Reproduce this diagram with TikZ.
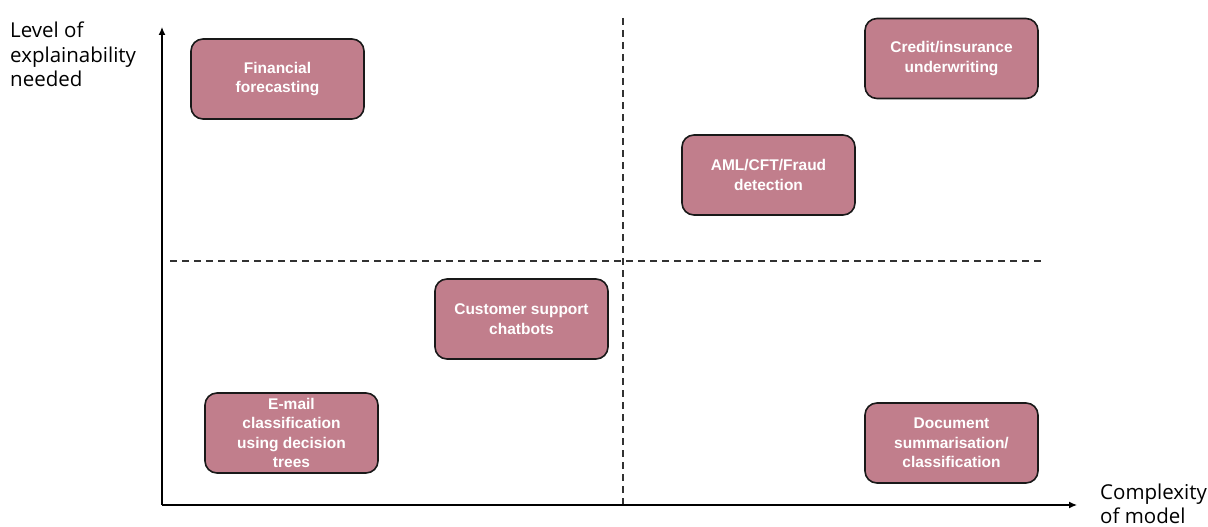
\documentclass[tikz,border=0pt]{standalone}
\usetikzlibrary{arrows.meta}
\usepackage{fontspec}
\setmainfont{Open Sans}
\newfontfamily\boxfont{Liberation Sans}
\definecolor{boxfill}{RGB}{193,126,140}
\definecolor{boxline}{RGB}{25,25,25}
\definecolor{dashgray}{RGB}{50,50,50}
\begin{document}
\begin{tikzpicture}[x=1pt,y=-1pt,
  usecase/.style={draw=boxline,line width=1.6pt,fill=boxfill,rounded corners=12pt,
    minimum width=173pt,minimum height=80pt,align=center,text=white,
    font=\boxfont\bfseries\fontsize{15.5}{19.5}\selectfont,inner sep=2pt},
  axis/.style={line width=1.3pt,-{Latex[length=8pt,width=7pt]}},
  divider/.style={dashgray,line width=1.3pt,dash pattern=on 7pt off 5pt},
  axislabel/.style={font=\fontsize{20.5}{24}\selectfont,align=left,anchor=base west,inner sep=0pt}]
\useasboundingbox (0,0) rectangle (1208,527);
\coordinate (origin) at (162,505);
\coordinate (ytip) at (162,27);
\coordinate (xtip) at (1077,505);
\coordinate (vtop) at (623,18);
\coordinate (vbot) at (623,505);
\coordinate (hl) at (170,261);
\coordinate (hr) at (1045,261);
\draw[divider] (vtop) -- (vbot);
\draw[divider] (hl) -- (hr);
\draw[axis] (origin) -- (ytip);
\draw[axis] (origin) -- (xtip);
\node[axislabel] (ylab) at (10,86) {Level of\\explainability\\needed};
\node[axislabel] (xlab) at (1100,523) {Complexity\\of model};
\node[usecase] (fin) at (277.5,79) {Financial\\forecasting};
\node[usecase] (credit) at (951.5,58.5) {Credit/insurance\\underwriting};
\node[usecase] (aml) at (768.5,175) {AML/CFT/Fraud\\detection};
\node[usecase] (chat) at (521.5,319) {Customer support\\chatbots};
\node[usecase] (email) at (291.5,433) {E-mail\\classification\\using decision\\trees};
\node[usecase] (doc) at (951.5,443) {Document\\summarisation/\\classification};
\end{tikzpicture}
\end{document}
